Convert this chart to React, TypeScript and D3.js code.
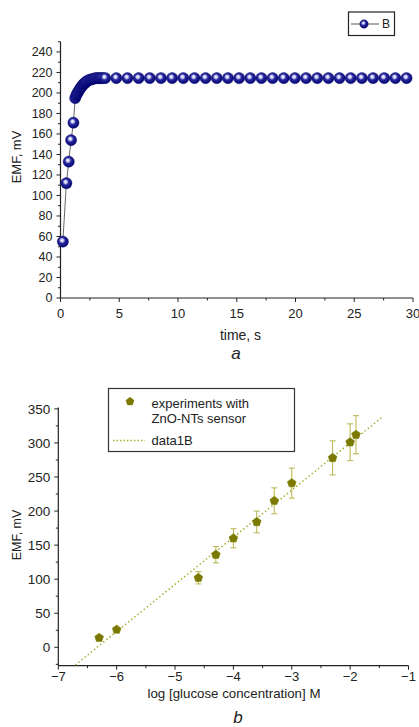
import React from "react";
import * as d3 from "d3";

// ---- Chart a data ----
const timeS = [0.2, 0.5, 0.7, 0.9, 1.1, 1.25, 1.35, 1.45, 1.55, 1.65, 1.75, 1.85, 1.95, 2.05, 2.15, 2.25, 2.4, 2.55, 2.7, 2.85, 3.0, 3.15, 3.3, 3.45, 3.6,
  3.8, 4.75, 5.7, 6.65, 7.6, 8.55, 9.5, 10.45, 11.4, 12.35, 13.3, 14.25, 15.2, 16.15, 17.1, 18.05, 19.0, 19.95, 20.9, 21.85, 22.8, 23.75, 24.7, 25.65, 26.6, 27.55, 28.5, 29.45];
const emfA = [55, 112, 133, 154, 171, 195, 198, 200, 202, 204, 205.5, 207, 208.5, 209.5, 210.5, 211.5, 212.5, 213, 213.5, 214, 214.5, 214.5, 214.5, 214.5, 214.5,
  214.5, 214.5, 214.5, 214.5, 214.5, 214.5, 214.5, 214.5, 214.5, 214.5, 214.5, 214.5, 214.5, 214.5, 214.5, 214.5, 214.5, 214.5, 214.5, 214.5, 214.5, 214.5, 214.5, 214.5, 214.5, 214.5, 214.5, 214.5];
const aYTicks = [0, 20, 40, 60, 80, 100, 120, 140, 160, 180, 200, 220, 240];
const aYMinor = [10, 30, 50, 70, 90, 110, 130, 150, 170, 190, 210, 230, 250];
const aXTicks = [0, 5, 10, 15, 20, 25, 30];
const aXMinor = [2.5, 7.5, 12.5, 17.5, 22.5, 27.5];

// ---- Chart b data ----
const logC = [-6.3, -6.0, -4.6, -4.3, -4.0, -3.6, -3.3, -3.0, -2.3, -2.0, -1.9];
const emfB = [14, 26, 102, 136, 160, 184, 215, 241, 278, 301, 312];
const errB = [3, 3, 9, 12, 14, 16, 19, 22, 25, 27, 28];
const fitX = [-6.71, -1.45];
const fitY = [-26, 338];
const bYTicks = [0, 50, 100, 150, 200, 250, 300, 350];
const bYMinor = [-25, 25, 75, 125, 175, 225, 275, 325];
const bXTicks = [-7, -6, -5, -4, -3, -2, -1];
const bXMinor = [-6.5, -5.5, -4.5, -3.5, -2.5, -1.5];

const FONT = "Liberation Sans, Arial, sans-serif";

function pentagon(cx: number, cy: number, r: number) {
  const pts: string[] = [];
  for (let i = 0; i < 5; i++) {
    const a = -Math.PI / 2 + (i * 2 * Math.PI) / 5;
    pts.push(`${cx + r * Math.cos(a)},${cy + r * Math.sin(a)}`);
  }
  return pts.join(" ");
}

const fmtMinus = (v: number) => (v < 0 ? "\u2212" + Math.abs(v) : String(v));

export default function App() {
  // chart a scales
  const xa = d3.scaleLinear().domain([0, 30]).range([60.5, 413]);
  const ya = d3.scaleLinear().domain([0, 250]).range([298, 41.7]);
  // chart b scales
  const xb = d3.scaleLinear().domain([-7, -1]).range([58.3, 408.5]);
  const yb = d3.scaleLinear().domain([-27, 352]).range([665.7, 407.5]);

  const lineA = d3.line<number>().x((_, i) => xa(timeS[i])).y((d) => ya(d));
  const fitLine = d3.line<number>().x((_, i) => xb(fitX[i])).y((d) => yb(d));

  const axisColor = "#222";
  const olive = "#7a7a00";
  const errCol = "#b4b448";

  return (
    <svg width={419} height={727} style={{ position: "absolute", left: 0, top: 0, background: "#fff" }} fontFamily={FONT}>
      <defs>
        <radialGradient id="ball" cx="45%" cy="42%" r="60%" fx="42%" fy="38%">
          <stop offset="0%" stopColor="#ffffff" />
          <stop offset="22%" stopColor="#c8c8ee" />
          <stop offset="45%" stopColor="#2a2aa0" />
          <stop offset="100%" stopColor="#000070" />
        </radialGradient>
      </defs>

      {/* ===== Chart a ===== */}
      <g>
        <line x1={xa(0)} x2={xa(0)} y1={ya(250)} y2={ya(0)} stroke={axisColor} strokeWidth={1.2} />
        <line x1={xa(0)} x2={xa(30)} y1={ya(0)} y2={ya(0)} stroke={axisColor} strokeWidth={1.2} />
        {aYTicks.map((t) => (
          <g key={"ay" + t}>
            <line x1={xa(0) - 4} x2={xa(0)} y1={ya(t)} y2={ya(t)} stroke={axisColor} strokeWidth={1} />
            <text x={xa(0) - 8} y={ya(t)} dy="0.35em" textAnchor="end" fontSize={12.5} fill="#222">{t}</text>
          </g>
        ))}
        {aYMinor.map((t) => (
          <line key={"aym" + t} x1={xa(0) - 2.5} x2={xa(0)} y1={ya(t)} y2={ya(t)} stroke={axisColor} strokeWidth={1} />
        ))}
        {aXTicks.map((t) => (
          <g key={"ax" + t}>
            <line x1={xa(t)} x2={xa(t)} y1={ya(0)} y2={ya(0) + 4} stroke={axisColor} strokeWidth={1} />
            <text x={xa(t)} y={ya(0) + 19.5} textAnchor="middle" fontSize={13} fill="#222">{t}</text>
          </g>
        ))}
        {aXMinor.map((t) => (
          <line key={"axm" + t} x1={xa(t)} x2={xa(t)} y1={ya(0)} y2={ya(0) + 2.5} stroke={axisColor} strokeWidth={1} />
        ))}
        <text x={240.5} y={340} textAnchor="middle" fontSize={14} fill="#222">time, s</text>
        <text x={236} y={359} textAnchor="middle" fontSize={17} fontStyle="italic" fill="#222">a</text>
        <text transform={`translate(21,157) rotate(-90)`} textAnchor="middle" fontSize={13} fill="#222">EMF, mV</text>

        <path d={lineA(emfA) || ""} fill="none" stroke="#555" strokeWidth={0.9} />
        {emfA.map((v, i) => (
          <circle key={"pa" + i} cx={xa(timeS[i])} cy={ya(v)} r={5.6} fill="url(#ball)" stroke="#000060" strokeWidth={0.4} />
        ))}

        <rect x={348.5} y={12} width={46} height={23.5} fill="#fff" stroke="#222" strokeWidth={1.2} />
        <line x1={351} x2={379} y1={24} y2={24} stroke="#555" strokeWidth={1} />
        <circle cx={364} cy={24} r={4.2} fill="url(#ball)" stroke="#000060" strokeWidth={0.4} />
        <text x={382} y={24} dy="0.35em" fontSize={12} fill="#222">B</text>
      </g>

      {/* ===== Chart b ===== */}
      <g>
        <line x1={xb(-7)} x2={xb(-7)} y1={yb(352)} y2={yb(-27)} stroke={axisColor} strokeWidth={1.2} />
        <line x1={xb(-7)} x2={xb(-1)} y1={yb(-27)} y2={yb(-27)} stroke={axisColor} strokeWidth={1.2} />
        {bYTicks.map((t) => (
          <g key={"by" + t}>
            <line x1={xb(-7) - 4} x2={xb(-7)} y1={yb(t)} y2={yb(t)} stroke={axisColor} strokeWidth={1} />
            <text x={xb(-7) - 8} y={yb(t)} dy="0.35em" textAnchor="end" fontSize={13.5} fill="#222">{t}</text>
          </g>
        ))}
        {bYMinor.map((t) => (
          <line key={"bym" + t} x1={xb(-7) - 2.5} x2={xb(-7)} y1={yb(t)} y2={yb(t)} stroke={axisColor} strokeWidth={1} />
        ))}
        {bXTicks.map((t) => (
          <g key={"bx" + t}>
            <line x1={xb(t)} x2={xb(t)} y1={yb(-27)} y2={yb(-27) + 4} stroke={axisColor} strokeWidth={1} />
            <text x={xb(t)} y={yb(-27) + 15.5} textAnchor="middle" fontSize={13} fill="#222">{fmtMinus(t)}</text>
          </g>
        ))}
        {bXMinor.map((t) => (
          <line key={"bxm" + t} x1={xb(t)} x2={xb(t)} y1={yb(-27)} y2={yb(-27) + 2.5} stroke={axisColor} strokeWidth={1} />
        ))}
        <text x={234} y={698} textAnchor="middle" fontSize={13.3} fill="#222">log [glucose concentration] M</text>
        <text x={238} y={723} textAnchor="middle" fontSize={17} fontStyle="italic" fill="#222">b</text>
        <text transform={`translate(21,535) rotate(-90)`} textAnchor="middle" fontSize={12.5} fill="#222">EMF, mV</text>

        <path d={fitLine(fitY) || ""} fill="none" stroke="#a8b030" strokeWidth={1.5} strokeDasharray="1.5,2.5" />

        {emfB.map((v, i) => {
          const x = xb(logC[i]);
          const y1 = yb(v - errB[i]);
          const y2 = yb(v + errB[i]);
          return (
            <g key={"eb" + i} stroke={errCol} strokeWidth={1}>
              <line x1={x} x2={x} y1={y1} y2={y2} />
              <line x1={x - 3} x2={x + 3} y1={y1} y2={y1} />
              <line x1={x - 3} x2={x + 3} y1={y2} y2={y2} />
            </g>
          );
        })}
        {emfB.map((v, i) => (
          <polygon key={"pb" + i} points={pentagon(xb(logC[i]), yb(v), 4.6)} fill={olive} stroke={olive} strokeWidth={0.5} />
        ))}

        <rect x={108.5} y={388.5} width={186} height={63} fill="#fff" stroke="#333" strokeWidth={1.2} />
        <polygon points={pentagon(130, 401.5, 4.2)} fill={olive} stroke={olive} strokeWidth={0.5} />
        <text x={151.5} y={403.5} dy="0.35em" fontSize={13} fill="#222">experiments with</text>
        <text x={151.5} y={418.5} dy="0.35em" fontSize={13} fill="#222">ZnO-NTs sensor</text>
        <line x1={113} x2={145} y1={440.5} y2={440.5} stroke="#a8b030" strokeWidth={1.3} strokeDasharray="1.5,2" />
        <text x={151.5} y={440.5} dy="0.35em" fontSize={13} fill="#222">data1B</text>
      </g>
    </svg>
  );
}
